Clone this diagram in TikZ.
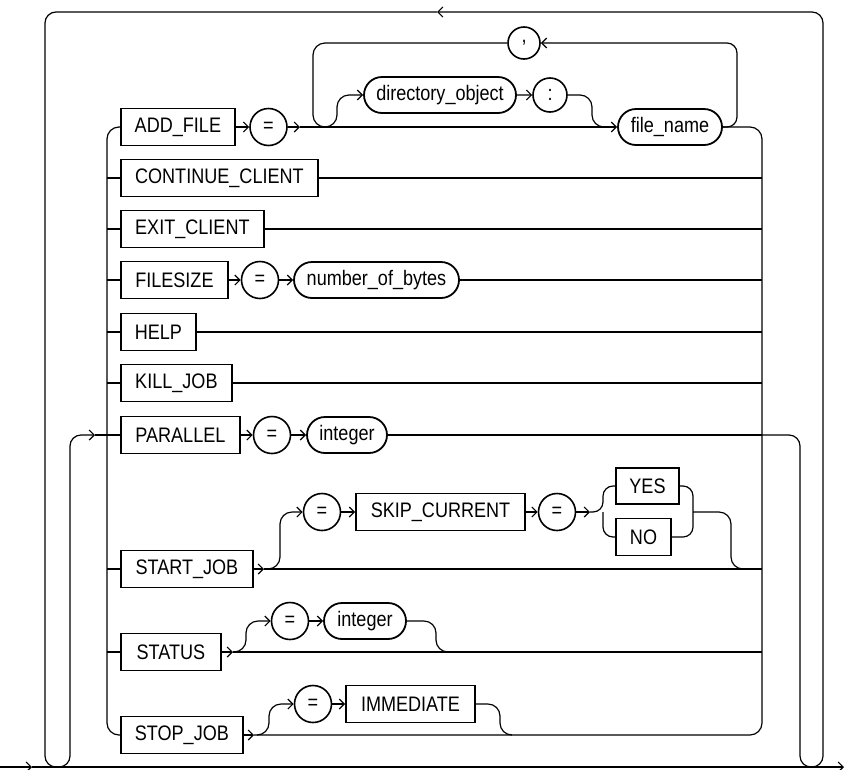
\documentclass[tikz,border=0pt]{standalone}
\usepackage{fontspec}
\setmainfont{Liberation Sans}[FakeStretch=0.86]
\usetikzlibrary{arrows.meta,shapes.misc}

\tikzset{
  txt/.style={font=\fontsize{21}{24}\selectfont},
  kw/.style={txt, draw, rectangle, line width=1.8pt, minimum height=37pt, inner xsep=1pt},
  sym/.style={txt, draw, circle, line width=1.6pt, minimum size=37pt, inner sep=0pt},
  var/.style={txt, draw, rounded rectangle, line width=1.8pt, minimum height=36pt, inner xsep=1pt},
  rail/.style={line width=1.2pt},
  go/.style={rail, -{Straight Barb[length=5pt,width=10pt]}},
}

\begin{document}
\begin{tikzpicture}[x=1pt,y=-1pt]
\useasboundingbox (0,0) rectangle (845,769);

% keywords of the choice
\node[kw, anchor=west, minimum width=114pt] (addf) at (120,127) {ADD\_FILE};
\node[kw, anchor=west, minimum width=197pt] (contc) at (120,178) {CONTINUE\_CLIENT};
\node[kw, anchor=west, minimum width=143pt] (exitc) at (120,229) {EXIT\_CLIENT};
\node[kw, anchor=west, minimum width=107pt] (fsize) at (120,280) {FILESIZE};
\node[kw, anchor=west, minimum width=75pt] (help) at (120,332) {HELP};
\node[kw, anchor=west, minimum width=111pt] (kill) at (120,383) {KILL\_JOB};
\node[kw, anchor=west, minimum width=119pt] (para) at (120,435) {PARALLEL};
\node[kw, anchor=west, minimum width=132pt] (start) at (120,569) {START\_JOB};
\node[kw, anchor=west, minimum width=100pt] (stat) at (120,652) {STATUS};
\node[kw, anchor=west, minimum width=122pt] (stop) at (120,735) {STOP\_JOB};

% symbols
\node[sym] (eqa) at (268.5,127) {=};
\node[sym] (eqf) at (260,280) {=};
\node[sym] (eqp) at (272,435) {=};
\node[sym] (eqs) at (322,512) {=};
\node[sym] (eqc) at (557,512) {=};
\node[sym] (eqt) at (290,621) {=};
\node[sym] (eqi) at (313,704) {=};
\node[sym, minimum size=34pt] (colon) at (550,95) {:};
\node[sym, minimum size=32pt] (comma) at (524,43) {,};

% variables
\node[var, minimum width=154pt] (dobj) at (440,95) {directory\_object};
\node[var, minimum width=106pt] (fname) at (670,127) {file\_name};
\node[var, minimum width=167pt] (nbytes) at (376.5,280) {number\_of\_bytes};
\node[var, minimum width=82pt] (intp) at (347,435) {integer};
\node[var, minimum width=84pt] (intt) at (365,621) {integer};

% other keywords
\node[kw, minimum width=169pt] (skip) at (440.5,512) {SKIP\_CURRENT};
\node[kw, minimum width=63pt, minimum height=36pt] (yes) at (647.5,486) {YES};
\node[kw, minimum width=55pt] (no) at (643.5,537) {NO};
\node[kw, minimum width=129pt] (immed) at (410.5,704) {IMMEDIATE};

% junctions
\coordinate (lft) at (107,435);
\coordinate (rgt) at (762,435);
\coordinate (mainin) at (0,767);
\coordinate (mainarr) at (32,767);
\coordinate (mainout) at (844,767);
\coordinate (back) at (437,12);
\coordinate (entry) at (95,435);
\coordinate (addgo) at (300,127);
\coordinate (startgo) at (264,569);
\coordinate (statgo) at (233,652);
\coordinate (stopgo) at (254,735);
\coordinate (yn) at (590,512);

% main line and outer loop
\draw[go] (mainin) -- (mainarr);
\draw[go] (mainarr) -- (mainout);
\draw[go, rounded corners=11] (rgt) -- (800,435) -- (800,767) -- (823,767) -- (823,12) -- (back);
\draw[go, rounded corners=11] (back) -- (45,12) -- (45,767) -- (70,767) -- (70,435) -- (entry);
\draw[rail] (entry) -- (lft);

% choice rails
\draw[rail, rounded corners=12] (addf.west) -- (addf.west -| lft) -- (stop.west -| lft) -- (stop.west);
\foreach \n in {contc,exitc,fsize,help,kill,para,start,stat}
  \draw[rail] (\n.west -| lft) -- (\n.west);
\draw[rail, rounded corners=12] (fname.east) -- (fname.east -| rgt) -- (stopgo -| rgt) -- (stopgo);
\foreach \n in {contc,exitc,help,kill,nbytes,intp}
  \draw[rail] (\n.east) -- (\n.east -| rgt);
\draw[rail] (startgo) -- (startgo -| rgt);
\draw[rail] (statgo) -- (statgo -| rgt);

% ADD_FILE
\draw[go] (addf) -- (eqa);
\draw[go] (eqa) -- (addgo);
\draw[go] (addgo) -- (fname);
\draw[go, rounded corners=12] (325,127) -- (337,127) -- (337,95) -- (dobj);
\draw[go] (dobj) -- (colon);
\draw[rail, rounded corners=12] (colon) -- (592,95) -- (592,127) -- (604,127);
\draw[go, rounded corners=10] (fname.east) -- (737,127) -- (737,43) -- (comma);
\draw[rail, rounded corners=12] (comma) -- (313,43) -- (313,127) -- (325,127);

% FILESIZE, PARALLEL
\draw[go] (fsize) -- (eqf);
\draw[go] (eqf) -- (nbytes);
\draw[go] (para) -- (eqp);
\draw[go] (eqp) -- (intp);

% START_JOB
\draw[go] (start) -- (startgo);
\draw[go, rounded corners=12] (268,569) -- (280,569) -- (280,512) -- (eqs);
\draw[go] (eqs) -- (skip);
\draw[go] (skip) -- (eqc);
\draw[go] (eqc) -- (yn);
\draw[rail, rounded corners=10] (yn) -- (603,512) -- (603,486) -- (yes);
\draw[rail, rounded corners=10] (603,512) -- (603,537) -- (no);
\draw[rail, rounded corners=10] (yes) -- (693,486) -- (693,512);
\draw[rail, rounded corners=10] (no) -- (693,537) -- (693,512);
\draw[rail, rounded corners=12] (693,512) -- (731,512) -- (731,569) -- (743,569);

% STATUS
\draw[go] (stat) -- (statgo);
\draw[go, rounded corners=12] (235,652) -- (246,652) -- (246,621) -- (eqt);
\draw[go] (eqt) -- (intt);
\draw[rail, rounded corners=12] (intt) -- (436,621) -- (436,652) -- (448,652);

% STOP_JOB
\draw[go] (stop) -- (stopgo);
\draw[go, rounded corners=12] (257,735) -- (269,735) -- (269,704) -- (eqi);
\draw[go] (eqi) -- (immed);
\draw[rail, rounded corners=12] (immed) -- (500,704) -- (500,735) -- (512,735);
\end{tikzpicture}
\end{document}
